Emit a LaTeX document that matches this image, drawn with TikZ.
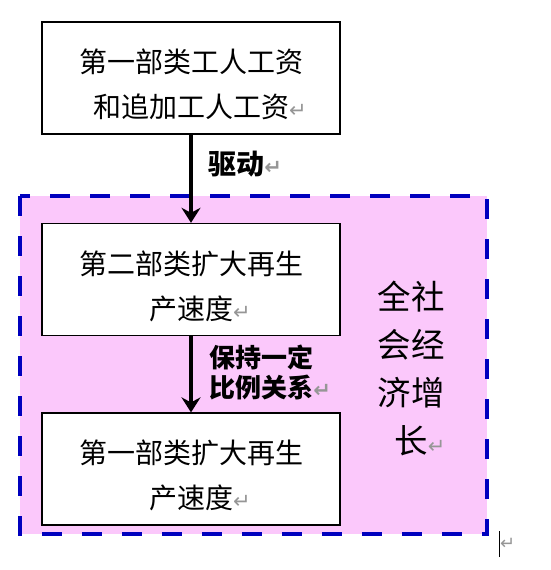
\documentclass[tikz,border=0pt]{standalone}
\usepackage{fontspec}
\setmainfont{Noto Sans CJK SC}
\newfontfamily\markfont{DejaVu Sans}
\usetikzlibrary{arrows.meta, positioning, backgrounds}
\definecolor{colZone}{RGB}{251,200,251}
\definecolor{colDash}{RGB}{0,0,190}
\definecolor{colMark}{RGB}{150,150,150}
\newcommand{\pmark}{\rlap{\textcolor{colMark}{\markfont\fontsize{21pt}{21pt}\selectfont ↵}}}
\newcommand{\topgap}{\rule{0pt}{37pt}}
\tikzset{
  rateBox/.style={
    rectangle, draw=black, line width=1.6pt, fill=white,
    minimum width=298pt, minimum height=112pt,
    align=center, inner sep=0pt,
    font=\fontsize{28pt}{45pt}\selectfont
  },
  flowLabel/.style={font=\fontsize{26pt}{30pt}\selectfont\bfseries, align=left, inner sep=0pt},
  zoneLabel/.style={font=\fontsize{33.5pt}{48pt}\selectfont, align=center, inner sep=0pt},
  zoneBorder/.style={draw=colDash, fill=colZone, line width=4.5pt, dash pattern=on 20pt off 20pt},
  flowArr/.style={-{Stealth[length=15pt, width=19pt, inset=5pt]}, line width=4.5pt},
}
\begin{document}
\begin{tikzpicture}[x=1pt, y=-1pt, node distance=88pt]
\useasboundingbox (0,0) rectangle (550,570);

% ---- Boxes (top to bottom) -------------------------------------
\node[rateBox] (wage) at (191,78) {\topgap 第一部类工人工资\\和追加工人工资\pmark};
\node[rateBox, below=of wage] (second) {\topgap 第二部类扩大再生\\产速度\pmark};
\node[rateBox, below=76pt of second] (first) {\topgap 第一部类扩大再生\\产速度\pmark};

% ---- Zone label ------------------------------------------------
\node[zoneLabel] (growth) at (411,368) {全社\\会经\\济增\\长\pmark};

% ---- Arrows ----------------------------------------------------
\draw[flowArr] (wage) -- node[flowLabel, pos=0.33, right=15pt, font=\fontsize{28pt}{30pt}\selectfont\bfseries]{驱动\pmark} (second);
\draw[flowArr] (second) -- node[flowLabel, pos=0.48, right=16pt]{保持一定\\比例关系\pmark} (first);

% ---- End mark --------------------------------------------------
\node[inner sep=0pt, anchor=west] (endmark) at (499,544) {\rule[-8pt]{0.8pt}{26pt}\textcolor{colMark}{\markfont\fontsize{18pt}{18pt}\selectfont ↵}};

% ---- Background zone -------------------------------------------
\begin{scope}[on background layer]
  \draw[zoneBorder] (20,196) rectangle (487,534);
\end{scope}

\end{tikzpicture}
\end{document}
